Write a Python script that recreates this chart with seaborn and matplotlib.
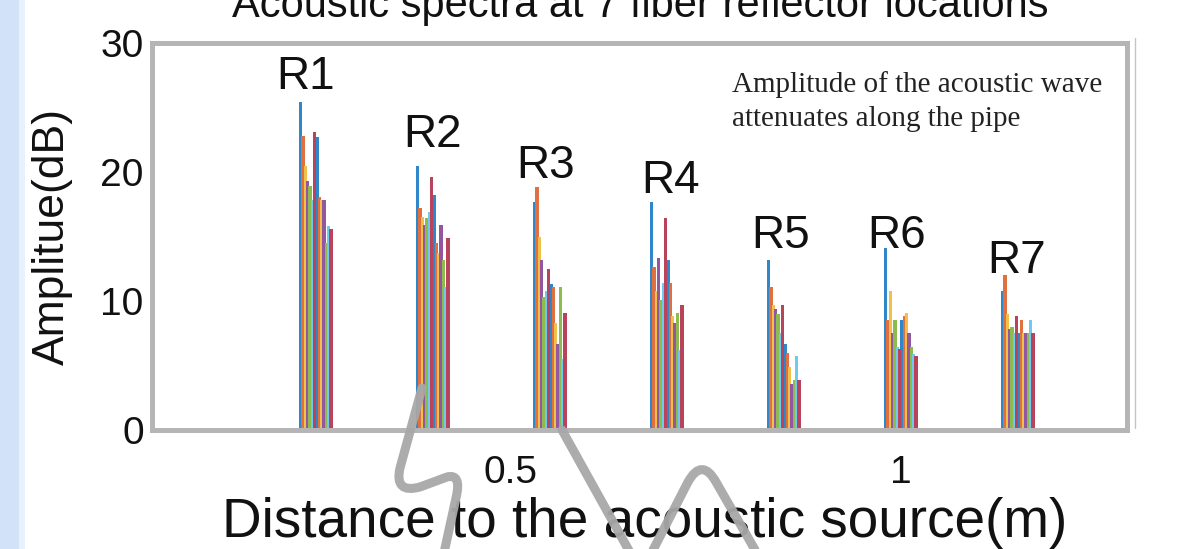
import numpy as np
import pandas as pd
import matplotlib
matplotlib.use("Agg")
import matplotlib.pyplot as plt
from matplotlib.path import Path
from matplotlib.patches import PathPatch, Rectangle
from matplotlib.lines import Line2D
import seaborn as sns

# ---------------------------------------------------------------------------
# Data: acoustic spectra (dB) measured at 7 fibre reflectors along the pipe
# ---------------------------------------------------------------------------
reflector_names = ["R1", "R2", "R3", "R4", "R5", "R6", "R7"]
reflector_pos = [0.25, 0.40, 0.55, 0.70, 0.85, 1.00, 1.15]   # distance (m)

amp_r1 = [25.4, 22.8, 20.5, 19.3, 18.9, 17.8, 23.1, 22.7, 18.1, 17.8, 17.8, 14.5, 15.8, 15.6]
amp_r2 = [20.5, 17.2, 16.5, 15.9, 16.4, 16.9, 19.6, 18.2, 14.5, 13.7, 15.9, 13.2, 11.1, 14.9]
amp_r3 = [17.7, 18.8, 15.0, 13.2, 10.3, 10.8, 12.5, 11.3, 11.1, 8.3, 6.7, 11.1, 5.5, 9.1]
amp_r4 = [17.7, 12.6, 10.8, 13.3, 10.1, 11.4, 16.4, 13.2, 11.4, 8.8, 8.3, 9.1, 6.2, 9.7]
amp_r5 = [13.2, 11.1, 9.7, 9.4, 9.0, 7.5, 9.7, 6.7, 6.0, 4.9, 3.6, 3.9, 5.7, 3.9]
amp_r6 = [14.1, 8.5, 10.8, 7.5, 8.5, 6.4, 6.3, 8.5, 8.8, 9.1, 7.5, 6.4, 5.9, 5.7]
amp_r7 = [10.8, 12.0, 9.0, 7.8, 8.0, 7.5, 8.8, 7.5, 8.5, 7.5, 7.5, 7.5, 8.5, 7.5]
amplitudes = [amp_r1, amp_r2, amp_r3, amp_r4, amp_r5, amp_r6, amp_r7]

x_ticks = [0.5, 1.0]
x_tick_labels = ["0.5", "1"]
y_ticks = [0, 10, 20, 30]
y_tick_labels = ["0", "10", "20", "30"]

# label anchor points (data units) for the reflector names
label_x = [0.237, 0.399, 0.544, 0.705, 0.846, 0.994, 1.149]
label_y = [27.4, 22.9, 20.5, 19.3, 15.0, 15.0, 13.1]

# MATLAB-like colour order for the individual frequency bins (slightly softened)
bin_colors = ["#2f86c8", "#e0703f", "#f0c048", "#9257a0",
              "#8cbc50", "#6fcaf0", "#b8435a"]

# ---------------------------------------------------------------------------
# Build the long-form table: one thin bar per frequency bin in every cluster
# ---------------------------------------------------------------------------
bin_step = 0.003
rows = []
for center, amps in zip(reflector_pos, amplitudes):
    n = len(amps)
    for i, a in enumerate(amps):
        rows.append({
            "distance": round(center + (i - (n - 1) / 2) * bin_step, 5),
            "amplitude": a,
            "bin": str(i % len(bin_colors)),
        })
df = pd.DataFrame(rows)

# ---------------------------------------------------------------------------
# Figure
# ---------------------------------------------------------------------------
sns.set_style("white")
plt.rcParams["font.family"] = ["Liberation Sans", "DejaVu Sans"]

W, H = 1177, 549
fig = plt.figure(figsize=(W / 100, H / 100), dpi=100)
fig.patch.set_facecolor("white")

# pale blue strip along the left edge
fig.add_artist(Rectangle((0, 0), 19 / W, 1, transform=fig.transFigure,
                         facecolor="#d2e3f9", edgecolor="none", zorder=0))
fig.add_artist(Rectangle((19 / W, 0), 6 / W, 1, transform=fig.transFigure,
                         facecolor="#e8f0fc", edgecolor="none", zorder=0))

ax = fig.add_axes([152 / W, 1 - 430 / H, 975 / W, 387 / H])

sns.barplot(data=df, x="distance", y="amplitude", hue="bin",
            hue_order=[str(i) for i in range(len(bin_colors))],
            palette=bin_colors, native_scale=True, dodge=False,
            width=1.4, errorbar=None, legend=False, saturation=1,
            linewidth=0, ax=ax)

ax.set_xlim(0.04, 1.29)
ax.set_ylim(0, 30)
ax.set_xticks(x_ticks)
ax.set_xticklabels(x_tick_labels)
ax.set_yticks(y_ticks)
ax.set_yticklabels(y_tick_labels)

ax.tick_params(axis="x", direction="in", length=5, width=1, color="#666666",
               labelsize=28, pad=18, labelcolor="#111111")
ax.tick_params(axis="y", length=0, labelsize=28, pad=6, labelcolor="#111111")

for side in ["left", "right", "top", "bottom"]:
    ax.spines[side].set_visible(True)
    ax.spines[side].set_color("#b5b5b5")
    ax.spines[side].set_linewidth(3.6)

ax.set_xlabel("Distance to the acoustic source(m)", fontsize=39.5, color="#111111")
ax.xaxis.label.set_va("baseline")
ax.xaxis.set_label_coords(0.505, -(537 - 430) / 387)
ax.set_ylabel("Amplitue(dB)", fontsize=32, color="#111111")
ax.yaxis.set_label_coords(-(152 - 52) / 975, 0.5)
ax.yaxis.label.set_va("center")

for name, lx, ly in zip(reflector_names, label_x, label_y):
    ax.text(lx, ly, name, fontsize=33, ha="center", va="center", color="#111111")

ax.text((732 - 152) / 975, 1 - (92 - 43) / 387,
        "Amplitude of the acoustic wave", transform=ax.transAxes,
        fontsize=21, family=["Liberation Serif", "DejaVu Serif"],
        ha="left", va="baseline", color="#222222")
ax.text((732 - 152) / 975, 1 - (126 - 43) / 387,
        "attenuates along the pipe", transform=ax.transAxes,
        fontsize=21, family=["Liberation Serif", "DejaVu Serif"],
        ha="left", va="baseline", color="#222222")

# title, partly running off the top edge
fig.text(640 / W, 1 - 17 / H, "Acoustic spectra at 7 fiber reflector locations",
         fontsize=30, ha="center", va="baseline", color="#111111")

# faint second frame line at the right
fig.add_artist(Line2D([1135 / W, 1135 / W], [1 - 38 / H, 1 - 428 / H],
                      transform=fig.transFigure, color="#c4c4c4", lw=1))

# hand-drawn grey strokes over the lower part of the figure
def px(x, y):
    return (x / W, 1 - y / H)

s_verts = [px(422, 388), px(400, 468), px(394, 494), px(420, 487),
           px(447, 477), px(462, 473), px(456, 498), px(442, 562)]
s_codes = [Path.MOVETO, Path.LINETO, Path.CURVE3, Path.CURVE3,
           Path.LINETO, Path.CURVE3, Path.CURVE3, Path.LINETO]
w_verts = [px(562, 430), px(632, 556), px(642, 575), px(652, 552),
           px(688, 482), px(702, 457), px(716, 482), px(762, 562)]
w_codes = [Path.MOVETO, Path.LINETO, Path.CURVE3, Path.CURVE3,
           Path.LINETO, Path.CURVE3, Path.CURVE3, Path.LINETO]
for verts, codes in [(s_verts, s_codes), (w_verts, w_codes)]:
    fig.add_artist(PathPatch(Path(verts, codes), fill=False,
                             edgecolor="#a8a8a8", lw=6.5, alpha=0.95,
                             capstyle="round", joinstyle="round",
                             transform=fig.transFigure, zorder=10))

fig.savefig("out.png", dpi=100)
